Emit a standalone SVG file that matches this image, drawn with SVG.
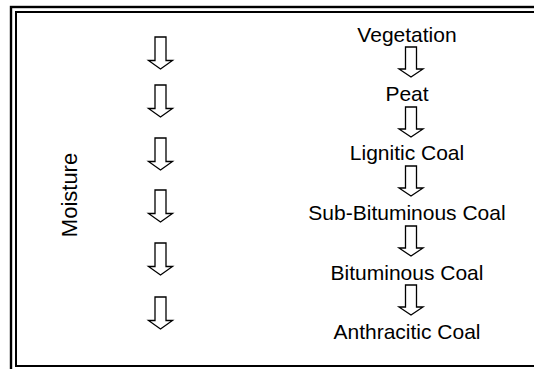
<svg xmlns="http://www.w3.org/2000/svg" width="534" height="369" viewBox="0 0 534 369">
<style>
text{font-family:"Liberation Sans",Arial,sans-serif;font-size:21px;fill:#000;text-anchor:middle}
.arr{fill:#fff;stroke:#000;stroke-width:1.3;stroke-linejoin:miter}
.frame{fill:none;stroke:#000}
</style>
<defs>
<path id="arrL" class="arr" d="M-5.5,0 H5.5 V23.5 H12 L0,32 L-12,23.5 H-5.5 Z"/>
<path id="arrR" class="arr" d="M-5.5,0 H5.5 V22 H12 L0,30 L-12,22 H-5.5 Z"/>
</defs>
<rect width="534" height="369" fill="#fff"/>
<g id="frame">
<rect class="frame" x="11" y="7" width="540" height="380" stroke-width="2.4"/>
<rect class="frame" x="16" y="12" width="530" height="354" stroke-width="2"/>
</g>
<g id="moisture">
<text transform="translate(77,195) rotate(-90)" style="font-size:22px">Moisture</text>
</g>
<g id="connectors">
<use href="#arrL" x="160.5" y="37"/>
<use href="#arrL" x="160.5" y="85"/>
<use href="#arrL" x="160.5" y="138"/>
<use href="#arrL" x="160.5" y="190"/>
<use href="#arrL" x="160.5" y="243"/>
<use href="#arrL" x="160.5" y="297"/>
<use href="#arrR" x="411" y="47"/>
<use href="#arrR" x="411" y="107"/>
<use href="#arrR" x="411" y="166"/>
<use href="#arrR" x="411" y="226"/>
<use href="#arrR" x="411" y="285"/>
</g>
<g id="n-vegetation"><text x="407" y="41.5">Vegetation</text></g>
<g id="n-peat"><text x="407" y="101">Peat</text></g>
<g id="n-lignitic"><text x="407" y="160">Lignitic Coal</text></g>
<g id="n-subbit"><text x="407" y="220">Sub-Bituminous Coal</text></g>
<g id="n-bit"><text x="407" y="280">Bituminous Coal</text></g>
<g id="n-anthracitic"><text x="407" y="339">Anthracitic Coal</text></g>
</svg>
